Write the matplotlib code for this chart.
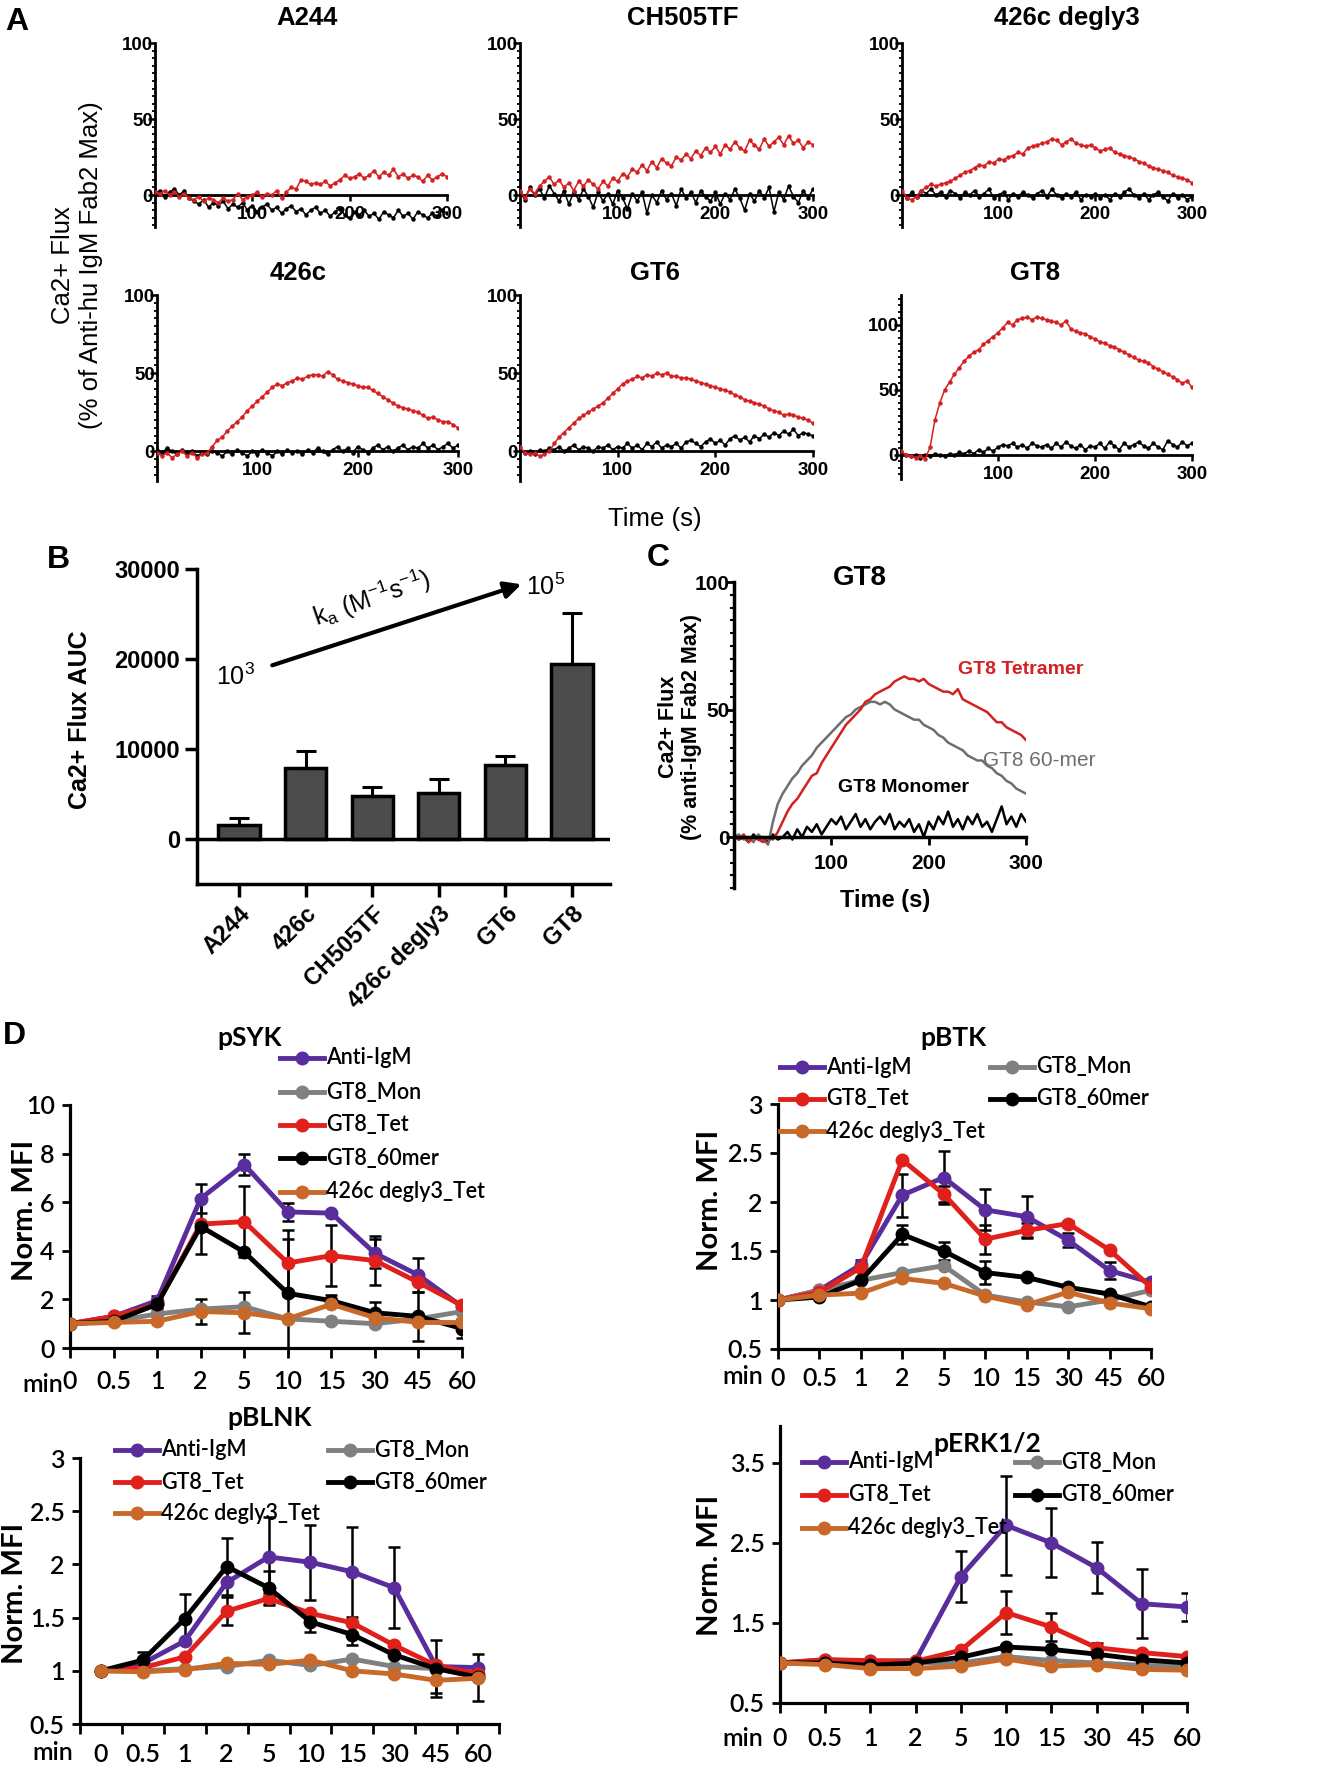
import numpy as np
import matplotlib
matplotlib.use('Agg')
import matplotlib.pyplot as plt
from matplotlib.lines import Line2D
from matplotlib.ticker import MultipleLocator

plt.rcParams['mathtext.default'] = 'regular'

# ---------------- DATA ----------------
t_flux = list(range(0, 301, 5))

a244_red = [2, 1, 3, 0, 2, -1, 1, -2, -3, -1,
            -4, -2, -3, -5, -2, -4, -3, 1, -3, -1,
            0, 2, -1, 1, 0, 3, -2, 2, 5, 4,
            10, 9, 7, 8, 7, 9, 6, 8, 10, 13,
            11, 12, 14, 11, 13, 16, 12, 15, 13, 17,
            12, 14, 11, 13, 12, 9, 13, 10, 12, 14,
            12]
a244_black = [1, 3, -1, 2, 4, 0, 3, -2, -4, -6,
              -3, -8, -5, -7, -4, -9, -6, -8, -5, -10,
              -7, -11, -8, -6, -10, -8, -12, -9, -7, -11,
              -9, -13, -10, -8, -12, -10, -14, -11, -9, -13,
              -15, -11, -13, -10, -14, -12, -16, -11, -13, -15,
              -10, -14, -12, -16, -11, -13, -15, -12, -14, -10,
              -12]
ch505_red = [3, -2, 4, 1, 6, 9, 12, 7, 10, 5,
             8, 3, 9, 6, 10, 7, 4, 9, 6, 11,
             9, 14, 12, 17, 15, 20, 16, 22, 18, 24,
             21, 19, 25, 23, 27, 24, 29, 26, 31, 28,
             32, 27, 33, 30, 35, 31, 29, 36, 33, 30,
             37, 32, 35, 38, 33, 39, 34, 36, 31, 35,
             33]
ch505_black = [2, -3, 5, 0, 4, -2, 6, 1, -4, 3,
               -6, 2, -3, 4, -1, -8, 2, -4, 1, -6,
               3, -2, -9, 1, -4, 2, -12, 0, -5, 3,
               -3, 1, -7, 4, -2, 2, -5, 3, -1, -4,
               2, -6, 1, -3, 4, -2, -10, 1, -4, 3,
               -2, 5, -11, 2, -3, 6, -1, -5, 3, -2,
               4]
degly_red = [3, -2, -3, -1, 3, 5, 7, 6, 7, 8,
             9, 11, 13, 15, 16, 18, 20, 19, 22, 21,
             24, 23, 25, 26, 28, 27, 31, 32, 33, 34,
             35, 37, 36, 33, 35, 37, 34, 33, 32, 33,
             31, 29, 30, 31, 28, 27, 26, 25, 24, 22,
             21, 19, 18, 17, 16, 15, 13, 12, 11, 10,
             8]
degly_black = [1, -2, 2, -1, 3, 1, 4, 0, 2, -1,
               3, 1, -2, 2, 0, 3, -1, 1, 4, -2,
               0, 2, -3, 1, -1, 2, 0, -2, 1, 3,
               -1, 4, 0, -2, 1, -1, 2, -3, 0, -1,
               1, -2, 0, -3, 1, -1, 2, 4, 0, -2,
               1, -3, 0, 2, -1, -4, 1, -2, 0, -3,
               -1]
c426_red = [-1, -3, -1, -4, -2, 0, -3, -1, -4, -2,
            -1, 3, 7, 9, 13, 16, 19, 22, 26, 29,
            32, 35, 38, 41, 43, 42, 44, 45, 47, 46,
            48, 49, 49, 48, 51, 49, 46, 45, 44, 43,
            42, 41, 41, 39, 37, 35, 33, 31, 29, 28,
            27, 26, 25, 23, 21, 22, 20, 19, 19, 17,
            15]
c426_black = [1, -1, 2, 0, -2, 1, -1, 0, -3, -1,
              -2, 0, -1, -3, 0, -2, 1, -1, -3, 0,
              -2, 1, -1, -3, 0, -2, 1, -1, 0, -2,
              1, -1, 2, 0, -2, 1, 3, 0, 2, -1,
              3, 1, -1, 2, 4, 1, 3, 0, 2, 4,
              1, 3, 2, 5, 2, 4, 1, 3, 5, 2,
              4]
gt6_red = [3, -1, -2, -1, -3, -2, 0, 5, 9, 12,
           15, 18, 21, 23, 25, 27, 29, 31, 34, 37,
           40, 43, 45, 46, 48, 47, 49, 48, 50, 49,
           50, 48, 48, 47, 47, 46, 45, 44, 43, 42,
           41, 40, 39, 38, 36, 35, 33, 32, 31, 30,
           29, 27, 26, 25, 23, 24, 23, 22, 21, 20,
           18]
gt6_black = [1, -1, 0, -2, 1, 0, 2, 1, 3, 0,
             2, 4, 1, 3, 2, 0, 3, 2, 4, 1,
             3, 2, 5, 2, 4, 1, 5, 3, 6, 2,
             4, 3, 5, 2, 6, 7, 5, 3, 6, 8,
             5, 7, 4, 8, 10, 7, 9, 6, 10, 8,
             11, 9, 12, 10, 13, 11, 14, 10, 12, 11,
             10]
gt8_red = [3, 0, -1, -2, -1, -3, 6, 27, 40, 50,
           56, 62, 67, 72, 76, 79, 81, 85, 88, 91,
           94, 98, 102, 100, 104, 105, 106, 104, 106, 105,
           104, 103, 102, 100, 103, 97, 95, 94, 93, 91,
           89, 87, 86, 84, 83, 81, 79, 77, 75, 73,
           72, 71, 68, 66, 64, 62, 60, 58, 55, 57,
           52]
gt8_black = [2, 0, -1, 0, -2, 0, -1, 1, 0, -1,
             1, 0, 2, 1, 3, 1, 4, 2, 5, 3,
             6, 8, 7, 9, 6, 8, 5, 9, 7, 6,
             8, 5, 9, 6, 10, 7, 5, 8, 4, 7,
             6, 9, 5, 10, 7, 4, 9, 6, 8, 10,
             7, 5, 9, 6, 4, 11, 8, 6, 10, 7,
             9]

b_cats = ['A244', '426c', 'CH505TF', '426c degly3', 'GT6', 'GT8']
b_vals = [1600, 7900, 4800, 5100, 8200, 19400]
b_err = [700, 1900, 1000, 1550, 1000, 5700]

c_tetramer = [0, -1, 1, -2, 0, -1, -2, 0, -1, 2,
              6, 10, 13, 15, 18, 21, 24, 25, 29, 32,
              35, 38, 41, 44, 46, 48, 50, 53, 54, 56,
              57, 58, 59, 61, 62, 63, 62, 62, 61, 62,
              60, 59, 58, 57, 57, 56, 58, 54, 53, 52,
              51, 50, 49, 47, 45, 45, 43, 42, 41, 40,
              38]
c_60mer = [0, 1, -1, 0, -2, 1, -1, -3, 6, 13,
           17, 20, 23, 25, 28, 30, 32, 35, 37, 39,
           41, 43, 45, 47, 48, 50, 51, 52, 53, 53,
           52, 53, 52, 50, 49, 48, 47, 46, 46, 44,
           43, 42, 40, 39, 37, 36, 35, 34, 32, 31,
           30, 30, 28, 27, 25, 24, 22, 21, 19, 18,
           17]
c_monomer = [1, -1, 0, -2, 1, -1, 0, -2, 1, -1,
             0, 2, -1, 3, 0, 4, 2, 5, 1, 4,
             7, 5, 8, 3, 6, 9, 4, 7, 3, 6,
             8, 5, 9, 3, 6, 4, 7, 2, 5, 0,
             6, 3, 8, 5, 10, 4, 7, 3, 8, 5,
             9, 4, 6, 2, 7, 12, 5, 8, 4, 9,
             6]

d_times = ['0', '0.5', '1', '2', '5', '10', '15', '30', '45', '60']
d_series = ['Anti-IgM', 'GT8_Mon', 'GT8_Tet', 'GT8_60mer', '426c degly3_Tet']

syk_vals = [[1.0, 1.3, 1.95, 6.15, 7.55, 5.6, 5.55, 3.9, 3.0, 1.7],
            [1.0, 1.1, 1.4, 1.6, 1.7, 1.2, 1.1, 1.0, 1.2, 1.5],
            [1.0, 1.3, 1.8, 5.1, 5.2, 3.5, 3.8, 3.6, 2.7, 1.75],
            [1.0, 1.1, 1.8, 5.0, 3.95, 2.25, 1.95, 1.45, 1.3, 0.8],
            [1.0, 1.05, 1.1, 1.5, 1.45, 1.2, 1.8, 1.25, 1.05, 1.05]]
syk_err = [[0, 0, 0.2, 0.6, 0.45, 0.37, 0, 0.6, 0.7, 0.2],
           [0, 0, 0, 0, 0, 0, 0, 0, 0, 0],
           [0, 0, 0, 0, 1.45, 1.35, 1.25, 1.0, 0, 0],
           [0, 0, 0.2, 1.15, 0, 2.25, 0.25, 0.45, 1.0, 0.4],
           [0, 0, 0, 0.5, 0.85, 0, 0, 0, 0, 0]]

btk_vals = [[1.0, 1.1, 1.36, 2.07, 2.25, 1.92, 1.85, 1.61, 1.3, 1.18],
            [1.0, 1.1, 1.2, 1.28, 1.35, 1.05, 0.98, 0.93, 1.0, 1.1],
            [1.0, 1.08, 1.33, 2.43, 2.08, 1.62, 1.71, 1.78, 1.51, 1.13],
            [1.0, 1.03, 1.2, 1.67, 1.5, 1.28, 1.23, 1.13, 1.06, 0.93],
            [1.0, 1.05, 1.07, 1.22, 1.17, 1.04, 0.95, 1.08, 0.97, 0.91]]
btk_err = [[0, 0, 0.05, 0.22, 0.27, 0.21, 0.21, 0.07, 0.09, 0],
           [0, 0, 0, 0, 0, 0, 0, 0, 0, 0],
           [0, 0, 0, 0, 0.08, 0.15, 0.08, 0.03, 0, 0],
           [0, 0, 0, 0.1, 0.09, 0.12, 0, 0, 0, 0],
           [0, 0, 0, 0, 0, 0, 0, 0, 0, 0]]

blnk_vals = [[1.0, 1.07, 1.28, 1.83, 2.07, 2.02, 1.93, 1.78, 1.04, 1.03],
             [1.0, 1.0, 1.02, 1.04, 1.1, 1.05, 1.11, 1.04, 1.02, 0.95],
             [1.0, 1.03, 1.13, 1.56, 1.68, 1.54, 1.45, 1.24, 1.05, 0.97],
             [1.0, 1.1, 1.49, 1.98, 1.78, 1.46, 1.34, 1.15, 1.02, 0.94],
             [1.0, 0.99, 1.01, 1.07, 1.06, 1.1, 1.0, 0.97, 0.91, 0.93]]
blnk_err = [[0, 0, 0, 0, 0.38, 0.35, 0.42, 0.38, 0, 0],
            [0, 0, 0, 0, 0, 0, 0, 0, 0, 0],
            [0, 0, 0, 0.13, 0.05, 0, 0, 0, 0, 0],
            [0, 0.08, 0.23, 0.27, 0.16, 0.1, 0.1, 0, 0.27, 0.22],
            [0, 0, 0, 0, 0, 0, 0, 0, 0.12, 0]]

erk_vals = [[1.0, 1.04, 1.02, 1.03, 2.08, 2.72, 2.5, 2.19, 1.74, 1.7],
            [1.0, 1.02, 1.0, 1.0, 1.0, 1.08, 1.03, 1.0, 0.97, 0.96],
            [1.0, 1.04, 1.03, 1.02, 1.16, 1.63, 1.45, 1.19, 1.13, 1.08],
            [1.0, 1.0, 0.97, 1.0, 1.07, 1.2, 1.17, 1.11, 1.04, 1.0],
            [1.0, 0.98, 0.93, 0.93, 0.96, 1.05, 0.96, 0.98, 0.92, 0.91]]
erk_err = [[0, 0, 0, 0, 0.32, 0.62, 0.43, 0.32, 0.43, 0.18],
           [0, 0, 0, 0, 0, 0, 0, 0, 0, 0],
           [0, 0, 0, 0, 0, 0.27, 0.17, 0.06, 0, 0],
           [0, 0, 0, 0, 0, 0, 0, 0, 0, 0],
           [0, 0, 0, 0, 0, 0, 0, 0, 0, 0]]

# ---------------- STYLE ----------------
W, H = 1343, 1775
fig = plt.figure(figsize=(W / 100, H / 100), dpi=100)
fig.patch.set_facecolor('white')

ARIAL = ['Liberation Sans', 'DejaVu Sans']
NARROW = ['Liberation Sans Narrow', 'Liberation Sans', 'DejaVu Sans']
CALIBRI = ['Lato', 'DejaVu Sans']
RED = '#d42020'
D_COLORS = ['#5a2d9c', '#808080', '#e0201b', '#000000', '#c8692a']


def axpx(l, t, r, b):
    return fig.add_axes([l / W, 1 - b / H, (r - l) / W, (b - t) / H])


def ftext(x, y, s, **kw):
    return fig.text(x / W, 1 - y / H, s, **kw)


# ---------------- PANEL A ----------------
def flux_panel(box, ylim, title, title_xy, red, black, yt=(0, 50, 100)):
    ax = axpx(*box)
    ax.plot(t_flux, black, color='black', lw=1.1, marker='o', ms=2.2, zorder=3)
    ax.plot(t_flux, red, color=RED, lw=1.1, marker='o', ms=2.2, zorder=4)
    ax.set_xlim(0, 300)
    ax.set_ylim(*ylim)
    for s in ('top', 'right'):
        ax.spines[s].set_visible(False)
    ax.spines['bottom'].set_position(('data', 0))
    for s in ('left', 'bottom'):
        ax.spines[s].set_linewidth(2.0)
    ax.set_yticks(list(yt), [str(v) for v in yt], fontweight='bold',
                  family=ARIAL, fontsize=13.5)
    ax.yaxis.set_minor_locator(MultipleLocator(5))
    ax.set_xticks([100, 200, 300], ['100', '200', '300'], fontweight='bold',
                  family=ARIAL, fontsize=13.5)
    ax.tick_params(axis='y', which='major', length=5, width=1.8, pad=-3.5)
    ax.tick_params(axis='y', which='minor', length=2.5, width=1.3)
    ax.tick_params(axis='x', which='major', length=4, width=1.8, pad=4)
    ax.patch.set_alpha(0)
    ftext(title_xy[0], title_xy[1], title, ha='center', va='center',
          fontsize=18.5, fontweight='bold', family=ARIAL)
    return ax


flux_panel((155, 43, 447, 227), (-21, 100), 'A244', (307, 18), a244_red, a244_black)
flux_panel((520, 43, 813, 227), (-21, 100), 'CH505TF', (683, 18), ch505_red, ch505_black)
flux_panel((902, 43, 1192, 227), (-21, 100), '426c degly3', (1067, 18), degly_red, degly_black)
flux_panel((157, 295, 458, 481), (-19, 100), '426c', (298, 273), c426_red, c426_black)
flux_panel((520, 295, 813, 481), (-19, 100), 'GT6', (655, 273), gt6_red, gt6_black)
flux_panel((901, 295, 1192, 479), (-18.5, 123), 'GT8', (1035, 273), gt8_red, gt8_black)

ftext(5, 22, 'A', ha='left', va='center', fontsize=23, fontweight='bold', family=ARIAL)
ftext(77, 265, 'Ca2+ Flux\n(% of Anti-hu IgM Fab2 Max)', rotation=90, ha='center',
      va='center', fontsize=18.5, family=ARIAL, linespacing=1.2)
ftext(655, 519, 'Time (s)', ha='center', va='center', fontsize=18.5, family=ARIAL)

# ---------------- PANEL B ----------------
axb = axpx(197, 569, 610, 884)
xb = np.arange(len(b_cats))
axb.bar(xb, b_vals, width=0.62, color='#4b4b4b', edgecolor='black', linewidth=2.5,
        yerr=[[0] * len(b_err), b_err], capsize=7,
        error_kw=dict(elinewidth=2.2, capthick=2.2, ecolor='black'), zorder=3)
axb.axhline(0, color='black', lw=2.5, zorder=4)
axb.set_xlim(-0.63, 5.57)
axb.set_ylim(-5000, 30000)
for s in ('top', 'right'):
    axb.spines[s].set_visible(False)
for s in ('left', 'bottom'):
    axb.spines[s].set_linewidth(2.5)
axb.set_yticks([0, 10000, 20000, 30000], ['0', '10000', '20000', '30000'],
               fontweight='bold', family=ARIAL, fontsize=17)
axb.set_xticks(xb, b_cats, fontweight='bold', family=ARIAL, fontsize=17,
               rotation=45, ha='right', rotation_mode='anchor')
axb.tick_params(axis='both', length=9, width=2.5)
axb.tick_params(axis='y', pad=3)
axb.tick_params(axis='x', pad=4)
axb.annotate('', xy=(4.24, 28300), xytext=(0.5, 19300),
             arrowprops=dict(arrowstyle='-|>', lw=3, color='black', mutation_scale=25,
                             shrinkA=0, shrinkB=0))
axb.text(-0.05, 18000, '10$^3$', ha='center', va='center', fontsize=18, family=ARIAL)
axb.text(4.6, 28000, '10$^5$', ha='center', va='center', fontsize=18, family=ARIAL)
axb.text(2.0, 26700, 'k$_a$ (M$^{-1}$s$^{-1}$)', ha='center', va='center', fontsize=18,
         family=ARIAL, rotation=19, rotation_mode='anchor')
ftext(47, 560, 'B', ha='left', va='center', fontsize=23, fontweight='bold', family=ARIAL)
ftext(80, 720, 'Ca2+ Flux AUC', rotation=90, ha='center', va='center', fontsize=18,
      fontweight='bold', family=ARIAL)

# ---------------- PANEL C ----------------
axc = axpx(734, 582, 1026, 888)
axc.plot(t_flux, c_monomer, color='black', lw=1.8)
axc.plot(t_flux, c_60mer, color='#6e6e6e', lw=1.8)
axc.plot(t_flux, c_tetramer, color=RED, lw=1.8)
axc.set_xlim(0, 300)
axc.set_ylim(-20, 100)
for s in ('top', 'right'):
    axc.spines[s].set_visible(False)
axc.spines['bottom'].set_position(('data', 0))
for s in ('left', 'bottom'):
    axc.spines[s].set_linewidth(2.5)
axc.set_yticks([0, 50, 100], ['0', '50', '100'], fontweight='bold', family=NARROW, fontsize=15)
axc.yaxis.set_minor_locator(MultipleLocator(5))
axc.set_xticks([100, 200, 300], ['100', '200', '300'], fontweight='bold', family=NARROW,
               fontsize=15)
axc.tick_params(axis='y', which='major', length=6, width=2, pad=-3)
axc.tick_params(axis='y', which='minor', length=3, width=1.5)
axc.tick_params(axis='x', which='major', length=6, width=2, pad=6)
axc.patch.set_alpha(0)
ftext(658, 558, 'C', ha='center', va='center', fontsize=23, fontweight='bold', family=ARIAL)
ftext(860, 578, 'GT8', ha='center', va='center', fontsize=20, fontweight='bold', family=ARIAL)
ftext(668, 727, 'Ca2+ Flux', rotation=90, ha='center', va='center', fontsize=15.5,
      fontweight='bold', family=NARROW)
ftext(692, 727, '(% anti-IgM Fab2 Max)', rotation=90, ha='center', va='center',
      fontsize=15.5, fontweight='bold', family=NARROW)
ftext(885, 900, 'Time (s)', ha='center', va='center', fontsize=17, fontweight='bold',
      family=NARROW)
ftext(958, 670, 'GT8 Tetramer', ha='left', va='center', fontsize=14, fontweight='bold',
      family=NARROW, color=RED)
ftext(983, 760, 'GT8 60-mer', ha='left', va='center', fontsize=15, fontweight='normal',
      family=NARROW, color='#6e6e6e')
ftext(838, 788, 'GT8 Monomer', ha='left', va='center', fontsize=14, fontweight='bold',
      family=NARROW, color='black')

# ---------------- PANEL D ----------------
def d_panel(box, vals, errs, ylim, yticks, ylabels, between, title, title_xy,
            leg_pos, min_xy, ylab_xy, xlab_pad):
    ax = axpx(*box)
    x = np.arange(len(d_times))
    for i in range(len(d_series)):
        ax.errorbar(x, vals[i], yerr=errs[i], fmt='none', ecolor='black', elinewidth=1.8,
                    capsize=4.5, capthick=1.8, zorder=2 + i)
    for i in range(len(d_series)):
        ax.plot(x, vals[i], color=D_COLORS[i], lw=3.5, marker='o', ms=9, zorder=10 + i)
    ax.set_ylim(*ylim)
    for s in ('top', 'right'):
        ax.spines[s].set_visible(False)
    for s in ('left', 'bottom'):
        ax.spines[s].set_linewidth(2.3)
    ax.set_yticks(yticks, ylabels, fontweight='semibold', family=CALIBRI, fontsize=18)
    ax.tick_params(axis='y', length=6, width=2, pad=5)
    if between:
        ax.set_xlim(-0.5, len(d_times) - 0.5)
        ax.set_xticks(np.arange(-0.5, len(d_times), 1.0), [''] * (len(d_times) + 1))
        ax.set_xticks(x, d_times, minor=True, fontweight='semibold', family=CALIBRI,
                      fontsize=18)
        ax.tick_params(axis='x', which='major', length=7, width=2)
        ax.tick_params(axis='x', which='minor', length=0, pad=xlab_pad + 5)
    else:
        ax.set_xlim(0, len(d_times) - 1)
        ax.set_xticks(x, d_times, fontweight='semibold', family=CALIBRI, fontsize=18)
        ax.tick_params(axis='x', length=7, width=2, pad=xlab_pad)
    ax.patch.set_alpha(0)
    for sp in ax.spines.values():
        sp.set_clip_on(False)
    ftext(title_xy[0], title_xy[1], title, ha='center', va='center', fontsize=19,
          fontweight='bold', family=CALIBRI)
    ftext(min_xy[0], min_xy[1], 'min', ha='center', va='center', fontsize=18,
          fontweight='semibold', family=CALIBRI)
    ftext(ylab_xy[0], ylab_xy[1], 'Norm. MFI', rotation=90, ha='center', va='center',
          fontsize=21, fontweight='bold', family=CALIBRI)
    for i, (lx, ly) in enumerate(leg_pos):
        yy = 1 - ly / H
        fig.add_artist(Line2D([lx / W, (lx + 44) / W], [yy, yy], transform=fig.transFigure,
                              color=D_COLORS[i], lw=3.5))
        fig.add_artist(Line2D([(lx + 22) / W], [yy], transform=fig.transFigure,
                              color=D_COLORS[i], marker='o', ms=9, lw=0))
        fig.text((lx + 46) / W, yy, d_series[i], ha='left', va='center', fontsize=15.5,
                 fontweight='semibold', family=CALIBRI)
    return ax


d_panel((70, 1105, 462, 1348), syk_vals, syk_err, (0, 10), [0, 2, 4, 6, 8, 10],
        ['0', '2', '4', '6', '8', '10'], False, 'pSYK', (250, 1038),
        [(280, 1058), (280, 1092), (280, 1125), (280, 1158), (280, 1192)],
        (43, 1385), (25, 1210), 9)
d_panel((778, 1104, 1151, 1349), btk_vals, btk_err, (0.5, 3), [0.5, 1, 1.5, 2, 2.5, 3],
        ['0.5', '1', '1.5', '2', '2.5', '3'], False, 'pBTK', (953, 1038),
        [(780, 1067), (990, 1067), (780, 1099), (990, 1099), (780, 1131)],
        (743, 1377), (710, 1200), 6)
d_panel((80, 1458, 499, 1724), blnk_vals, blnk_err, (0.5, 3), [0.5, 1, 1.5, 2, 2.5, 3],
        ['0.5', '1', '1.5', '2', '2.5', '3'], True, 'pBLNK', (270, 1418),
        [(115, 1450), (328, 1450), (115, 1482), (328, 1482), (115, 1513)],
        (53, 1753), (15, 1593), 9)
d_panel((780, 1426, 1187, 1703), erk_vals, erk_err, (0.5, 3.96), [0.5, 1.5, 2.5, 3.5],
        ['0.5', '1.5', '2.5', '3.5'], False, 'pERK1/2', (987, 1444),
        [(802, 1462), (1015, 1462), (802, 1495), (1015, 1495), (802, 1528)],
        (743, 1738), (710, 1565), 10)
ftext(3, 1036, 'D', ha='left', va='center', fontsize=23, fontweight='bold', family=ARIAL)

fig.savefig('out.png', dpi=100, facecolor='white')
